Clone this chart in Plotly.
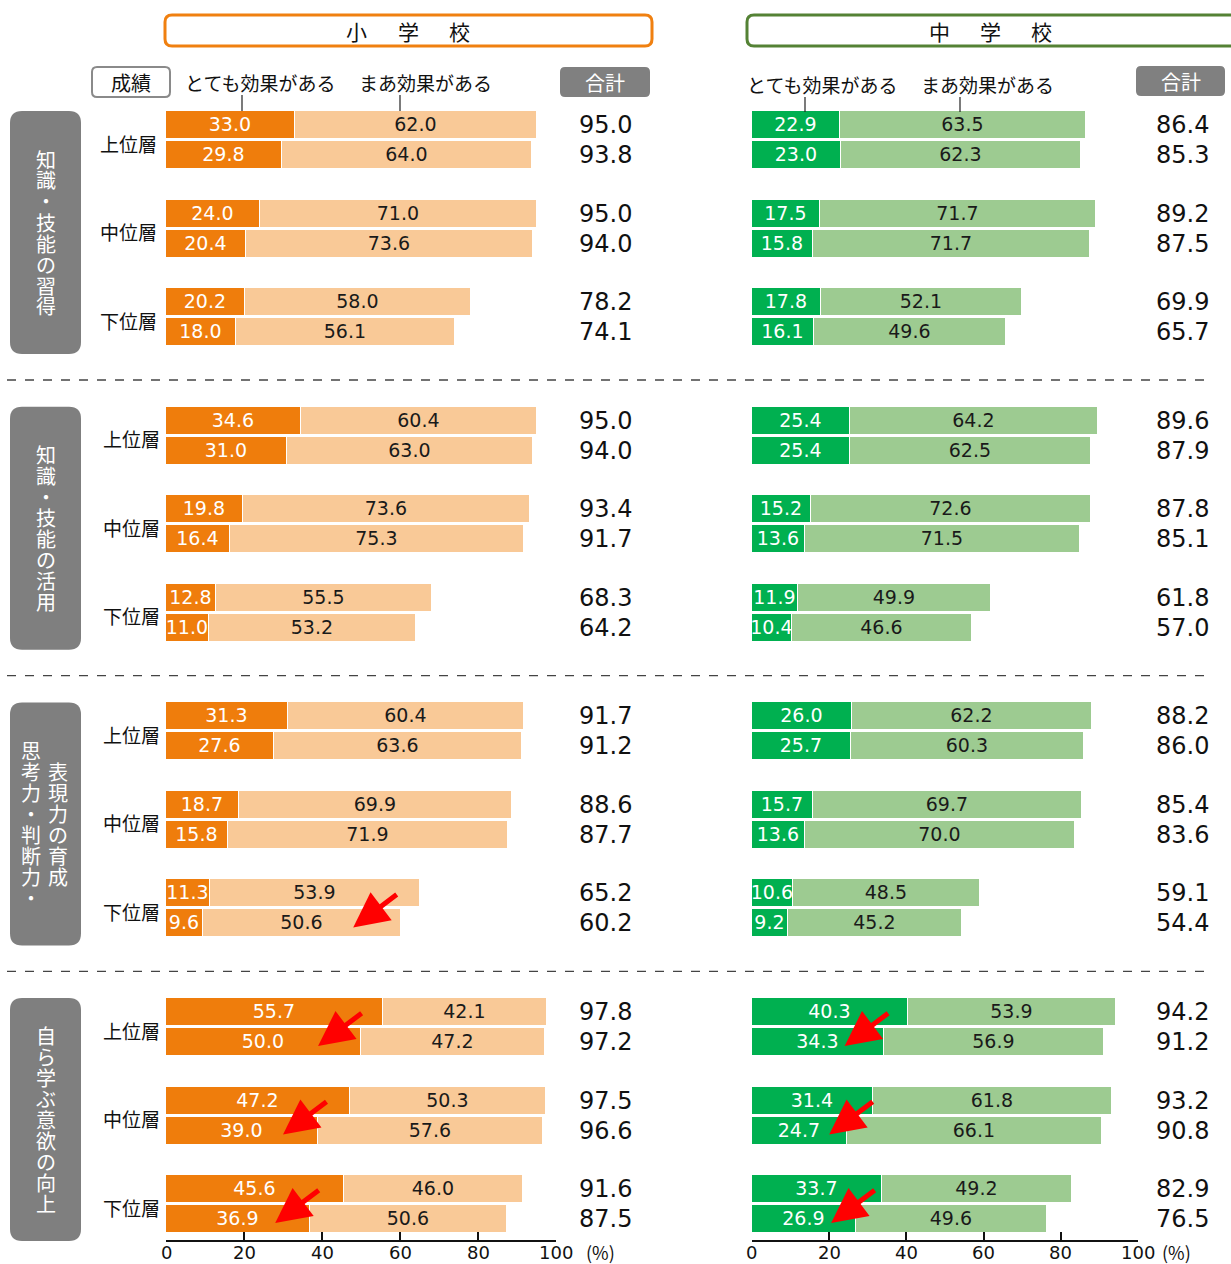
import plotly.graph_objects as go

W, H = 1231, 1264

# ---- data -------------------------------------------------------------
groups = ["知識・技能の習得", "知識・技能の活用", "思考力・判断力・表現力の育成", "自ら学ぶ意欲の向上"]
# vertical label columns per group, right column first
group_label_cols = [["知識・技能の習得"], ["知識・技能の活用"],
                    ["表現力の育成", "思考力・判断力・"], ["自ら学ぶ意欲の向上"]]
tiers = ["上位層", "中位層", "下位層"]
series_names = ["とても効果がある", "まあ効果がある"]
panels = ["小学校", "中学校"]

# two rows per tier, order: group -> tier -> row
es_strong = [33.0, 29.8, 24.0, 20.4, 20.2, 18.0,
             34.6, 31.0, 19.8, 16.4, 12.8, 11.0,
             31.3, 27.6, 18.7, 15.8, 11.3, 9.6,
             55.7, 50.0, 47.2, 39.0, 45.6, 36.9]
es_some = [62.0, 64.0, 71.0, 73.6, 58.0, 56.1,
           60.4, 63.0, 73.6, 75.3, 55.5, 53.2,
           60.4, 63.6, 69.9, 71.9, 53.9, 50.6,
           42.1, 47.2, 50.3, 57.6, 46.0, 50.6]
jh_strong = [22.9, 23.0, 17.5, 15.8, 17.8, 16.1,
             25.4, 25.4, 15.2, 13.6, 11.9, 10.4,
             26.0, 25.7, 15.7, 13.6, 10.6, 9.2,
             40.3, 34.3, 31.4, 24.7, 33.7, 26.9]
jh_some = [63.5, 62.3, 71.7, 71.7, 52.1, 49.6,
           64.2, 62.5, 72.6, 71.5, 49.9, 46.6,
           62.2, 60.3, 69.7, 70.0, 48.5, 45.2,
           53.9, 56.9, 61.8, 66.1, 49.2, 49.6]
x_ticks = [0, 20, 40, 60, 80, 100]

# highlighted rows: (panel, group, tier, row, x value of arrow tip)
arrows = [(0, 2, 2, 1, 48), (0, 3, 0, 1, 39), (0, 3, 1, 1, 30), (0, 3, 2, 1, 28),
          (1, 3, 0, 1, 24), (1, 3, 1, 1, 20), (1, 3, 2, 1, 20.5)]

# ---- layout geometry (pixels) ----------------------------------------
FONT = "Noto Sans CJK JP"
NUM_FONT = "DejaVu Sans"
Y0, SEC, TIER, ROW, BAR_H = 125, 295.7, 88.5, 30, 28
X_DOM = [(166, 556), (752, 1138)]
TOTAL_X = [605, 1182]
AXIS_Y = 1241
TICK_LABEL_Y = 1252

C_ES = ("#EF7D0C", "#F9C997")
C_JH = ("#00B050", "#9DCB91")


def px(x):
    return x / W


def py(y):
    return 1 - y / H


def row_y(g, t, r):
    return Y0 + g * SEC + t * TIER + r * ROW


ys = [row_y(g, t, r) for g in range(4) for t in range(3) for r in range(2)]


def rrect(x0, y0, x1, y1, r):
    rx, ry = r / W, r / H
    a, b, c, d = px(x0), py(y0), px(x1), py(y1)
    return (f"M {a+rx},{b} L {c-rx},{b} Q {c},{b} {c},{b-ry} L {c},{d+ry} "
            f"Q {c},{d} {c-rx},{d} L {a+rx},{d} Q {a},{d} {a},{d+ry} "
            f"L {a},{b-ry} Q {a},{b} {a+rx},{b} Z")


def open_right_box(x0, y0, x1, y1, r):
    # rounded on the left, running off the right page edge
    rx, ry = r / W, r / H
    a, b, c, d = px(x0), py(y0), px(x1), py(y1)
    return (f"M {c},{b} L {a+rx},{b} Q {a},{b} {a},{b-ry} L {a},{d+ry} "
            f"Q {a},{d} {a+rx},{d} L {c},{d}")


fig = go.Figure()

for p, (strong, some, cols) in enumerate([(es_strong, es_some, C_ES), (jh_strong, jh_some, C_JH)]):
    xa = "x" if p == 0 else "x2"
    for s, (vals, col, tcol) in enumerate([(strong, cols[0], "white"), (some, cols[1], "#1a1a1a")]):
        fig.add_trace(go.Bar(
            x=vals, y=ys, orientation="h", width=BAR_H,
            xaxis=xa, yaxis="y", name=f"{panels[p]} {series_names[s]}",
            marker=dict(color=col, line=dict(color="white", width=1.2)),
            text=[f"{v:.1f}" for v in vals], textposition="inside",
            insidetextanchor="middle", textangle=0,
            textfont=dict(family=NUM_FONT, size=19, color=tcol),
            hoverinfo="skip", showlegend=False,
        ))

shapes = []
ann = []


def text(x, y, s, size, color="#111", xanchor="center", yref="paper", family=FONT):
    ann.append(dict(x=px(x), y=(py(y) if yref == "paper" else y), xref="paper", yref=yref,
                    text=s, showarrow=False, xanchor=xanchor, yanchor="middle", align="center",
                    font=dict(family=family, size=size, color=color)))


# totals
for p, (strong, some) in enumerate([(es_strong, es_some), (jh_strong, jh_some)]):
    for y, a, b in zip(ys, strong, some):
        text(TOTAL_X[p], y, f"{a + b:.1f}", 24, yref="y", family=NUM_FONT)

# tier labels
for g in range(4):
    for t in range(3):
        yc = (row_y(g, t, 0) + row_y(g, t, 1)) / 2 + 3
        text(128 if g == 0 else 131, yc, tiers[t], 19, yref="y")

# group boxes with vertical (top-to-bottom) text, one glyph per cell
CHAR_STEP = 21
for g in range(4):
    top = row_y(g, 0, 0) - 14
    bot = row_y(g, 2, 1) + 22
    shapes.append(dict(type="path", path=rrect(10, top, 81, bot, 12), xref="paper", yref="paper",
                       fillcolor="#7F7F7F", line=dict(width=0), layer="below"))
    cols = group_label_cols[g]
    xs = [45.5] if len(cols) == 1 else [58, 31]
    cy = (top + bot) / 2
    for cx, col in zip(xs, cols):
        n = len(col)
        for i, ch in enumerate(col):
            text(cx, cy + (i - (n - 1) / 2) * CHAR_STEP, ch, 20, color="white")

# dashed separators
for g in range(3):
    y = row_y(g, 2, 1) + 48
    shapes.append(dict(type="line", x0=px(7), x1=px(1205), y0=py(y), y1=py(y), xref="paper", yref="paper",
                       line=dict(color="#444", width=1.3, dash="dash")))

# panel headers
shapes.append(dict(type="path", path=rrect(165, 15, 652, 46, 7), xref="paper", yref="paper",
                   fillcolor="white", line=dict(color="#F08010", width=3)))
shapes.append(dict(type="path", path=open_right_box(747, 15, 1231, 46, 7), xref="paper", yref="paper",
                   line=dict(color="#548235", width=3)))
for cx, ch in zip([357, 408, 459], "小学校"):
    text(cx, 31, ch, 21)
for cx, ch in zip([939, 990, 1041], "中学校"):
    text(cx, 31, ch, 21)

# column headers
shapes.append(dict(type="path", path=rrect(92, 67, 170, 97, 5), xref="paper", yref="paper",
                   fillcolor="white", line=dict(color="#8a8a8a", width=2)))
text(131, 82, "成績", 20)
for x0, x1, y0 in [(560, 650, 67), (1136, 1225, 66)]:
    shapes.append(dict(type="path", path=rrect(x0, y0, x1, y0 + 30, 5), xref="paper", yref="paper",
                       fillcolor="#808080", line=dict(width=0)))
    text((x0 + x1) / 2, y0 + 15, "合計", 20, color="white")

# series labels with leader lines
for (lx, sx, ly, l1, l2, ytop) in [(260, 425, 82, 242, 400, 111), (822, 988, 84, 805, 960, 112)]:
    text(lx, ly, series_names[0], 19)
    text(sx, ly, series_names[1], 19)
    for lxx in (l1, l2):
        shapes.append(dict(type="line", x0=px(lxx), x1=px(lxx), y0=py(ly + 13), y1=py(ytop),
                           xref="paper", yref="paper", line=dict(color="#222", width=1.2)))

# x tick labels, placed just under each axis line
for xa in ("x", "x2"):
    for v in x_ticks:
        ann.append(dict(x=v, y=TICK_LABEL_Y, xref=xa, yref="y", text=str(v), showarrow=False,
                        xanchor="center", yanchor="middle",
                        font=dict(family=NUM_FONT, size=18, color="#111")))
text(600, TICK_LABEL_Y, "(%)", 18)
text(1176, TICK_LABEL_Y, "(%)", 18)

# red arrows
for p, g, t, r, xv in arrows:
    ann.append(dict(x=xv, y=row_y(g, t, r) + 4, xref="x" if p == 0 else "x2", yref="y",
                    ax=45, ay=-34, axref="pixel", ayref="pixel", text="", showarrow=True,
                    arrowhead=2, arrowsize=1.4, arrowwidth=5, arrowcolor="#FF0000", standoff=0))

axis_common = dict(range=[0, 100], tickvals=x_ticks, showticklabels=False,
                   ticks="inside", ticklen=8, tickwidth=2, tickcolor="#111",
                   showline=True, linewidth=2, linecolor="#111",
                   showgrid=False, zeroline=False, fixedrange=True, automargin=False,
                   anchor="free", position=py(AXIS_Y))

fig.update_layout(
    width=W, height=H, margin=dict(l=0, r=0, t=0, b=0, pad=0, autoexpand=False),
    paper_bgcolor="white", plot_bgcolor="white",
    barmode="stack", bargap=0,
    uniformtext=dict(minsize=19, mode="show"),
    xaxis=dict(domain=[px(X_DOM[0][0]), px(X_DOM[0][1])], **axis_common),
    xaxis2=dict(domain=[px(X_DOM[1][0]), px(X_DOM[1][1])], **axis_common),
    yaxis=dict(range=[H, 0], domain=[0, 1], visible=False, fixedrange=True, anchor="x",
               automargin=False),
    shapes=shapes, annotations=ann, showlegend=False,
)

fig.write_html("out.html")
